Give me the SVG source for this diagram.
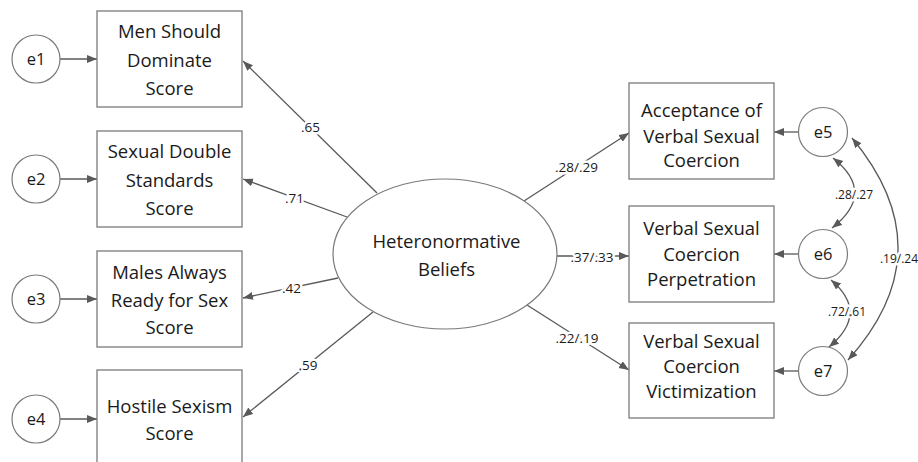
<svg xmlns="http://www.w3.org/2000/svg" width="918" height="462" viewBox="0 0 918 462">
<defs>
<marker id="ah" markerUnits="userSpaceOnUse" markerWidth="12" markerHeight="10" refX="10" refY="4" orient="auto-start-reverse" viewBox="0 0 12 10">
<path d="M0,0 L10,4 L0,8 z" fill="#595959"/>
</marker>
<style>
.box{fill:#fff;stroke:#7a7a7a;stroke-width:1.3}
.circ{fill:#fff;stroke:#7a7a7a;stroke-width:1.2}
.t{font-family:"Open Sans","Liberation Sans",sans-serif;font-size:18.5px;fill:#1a1a1a;text-anchor:middle}
.et{font-family:"Open Sans","Liberation Sans",sans-serif;font-size:16.5px;fill:#1a1a1a;text-anchor:middle}
.lbl{font-family:"Open Sans","Liberation Sans",sans-serif;font-size:13.5px;fill:#1a1a1a;text-anchor:middle;stroke:#fff;stroke-width:5;paint-order:stroke;stroke-linejoin:round}
.lbs{font-size:12px}
.ln{fill:none;stroke:#595959;stroke-width:1.3}
</style>
</defs>
<rect width="918" height="462" fill="#fff"/>

<g id="connectors">
<line class="ln" x1="60" y1="59" x2="97" y2="59" marker-end="url(#ah)"/>
<line class="ln" x1="60" y1="179" x2="97" y2="179" marker-end="url(#ah)"/>
<line class="ln" x1="60" y1="299" x2="97" y2="299" marker-end="url(#ah)"/>
<line class="ln" x1="60" y1="419" x2="97" y2="419" marker-end="url(#ah)"/>
<line class="ln" x1="798" y1="132" x2="774" y2="132" marker-end="url(#ah)"/>
<line class="ln" x1="798" y1="254" x2="774" y2="254" marker-end="url(#ah)"/>
<line class="ln" x1="798" y1="371" x2="774" y2="371" marker-end="url(#ah)"/>
<line class="ln" x1="377" y1="193" x2="243" y2="61" marker-end="url(#ah)"/>
<line class="ln" x1="347" y1="217" x2="243" y2="179" marker-end="url(#ah)"/>
<line class="ln" x1="338" y1="278" x2="243" y2="298" marker-end="url(#ah)"/>
<line class="ln" x1="373" y1="312" x2="243" y2="417" marker-end="url(#ah)"/>
<line class="ln" x1="524" y1="201" x2="629" y2="133" marker-end="url(#ah)"/>
<line class="ln" x1="557" y1="256" x2="629" y2="256" marker-end="url(#ah)"/>
<line class="ln" x1="527" y1="305" x2="629" y2="370" marker-end="url(#ah)"/>
<path class="ln" d="M833,158 Q877,193 832,228" marker-start="url(#ah)" marker-end="url(#ah)"/>
<path class="ln" d="M831,280 Q870,313 829,347" marker-start="url(#ah)" marker-end="url(#ah)"/>
<path class="ln" d="M852,138 Q946,251 848,360" marker-start="url(#ah)" marker-end="url(#ah)"/>
<text class="lbl" x="310.5" y="132">.65</text>
<text class="lbl" x="294.5" y="203">.71</text>
<text class="lbl" x="291.5" y="293">.42</text>
<text class="lbl" x="308" y="370">.59</text>
<text class="lbl" x="576.5" y="172">.28/.29</text>
<text class="lbl" x="592" y="262">.37/.33</text>
<text class="lbl" x="577" y="343">.22/.19</text>
<text class="lbl lbs" x="854" y="199">.28/.27</text>
<text class="lbl lbs" x="847" y="316">.72/.61</text>
<text class="lbl lbs" x="899" y="263">.19/.24</text>
</g>

<g id="e1"><circle class="circ" cx="36" cy="59" r="24"/><text class="et" x="36" y="65">e1</text></g>
<g id="e2"><circle class="circ" cx="36" cy="179" r="24"/><text class="et" x="36" y="185">e2</text></g>
<g id="e3"><circle class="circ" cx="36" cy="299" r="24"/><text class="et" x="36" y="305">e3</text></g>
<g id="e4"><circle class="circ" cx="36" cy="419" r="24"/><text class="et" x="36" y="425">e4</text></g>

<g id="men_should_dominate"><rect class="box" x="97" y="11" width="145" height="96"/>
<text class="t" x="169.5" y="38">Men Should</text><text class="t" x="169.5" y="67">Dominate</text><text class="t" x="169.5" y="95">Score</text></g>
<g id="sexual_double_standards"><rect class="box" x="97" y="131" width="145" height="96"/>
<text class="t" x="169.5" y="158">Sexual Double</text><text class="t" x="169.5" y="187">Standards</text><text class="t" x="169.5" y="215">Score</text></g>
<g id="males_always_ready"><rect class="box" x="97" y="251" width="145" height="96"/>
<text class="t" x="169.5" y="279">Males Always</text><text class="t" x="169.5" y="307">Ready for Sex</text><text class="t" x="169.5" y="334">Score</text></g>
<g id="hostile_sexism"><rect class="box" x="97" y="370" width="145" height="100"/>
<text class="t" x="169.5" y="413">Hostile Sexism</text><text class="t" x="169.5" y="440">Score</text></g>

<g id="heteronormative_beliefs"><ellipse class="circ" cx="445" cy="254" rx="112" ry="75"/>
<text class="t" x="446.5" y="248">Heteronormative</text><text class="t" x="446.5" y="276">Beliefs</text></g>

<g id="acceptance"><rect class="box" x="629" y="83" width="145" height="96"/>
<text class="t" x="701.5" y="117">Acceptance of</text><text class="t" x="701.5" y="143">Verbal Sexual</text><text class="t" x="701.5" y="167">Coercion</text></g>
<g id="perpetration"><rect class="box" x="629" y="206" width="145" height="96"/>
<text class="t" x="701.5" y="235">Verbal Sexual</text><text class="t" x="701.5" y="261">Coercion</text><text class="t" x="701.5" y="286">Perpetration</text></g>
<g id="victimization"><rect class="box" x="629" y="323" width="145" height="95"/>
<text class="t" x="701.5" y="348">Verbal Sexual</text><text class="t" x="701.5" y="373">Coercion</text><text class="t" x="701.5" y="398">Victimization</text></g>

<g id="e5"><circle class="circ" cx="823" cy="132" r="24.5"/><text class="et" x="823" y="138">e5</text></g>
<g id="e6"><circle class="circ" cx="823" cy="254" r="24.5"/><text class="et" x="823" y="260">e6</text></g>
<g id="e7"><circle class="circ" cx="823" cy="371" r="24.5"/><text class="et" x="823" y="377">e7</text></g>
</svg>
